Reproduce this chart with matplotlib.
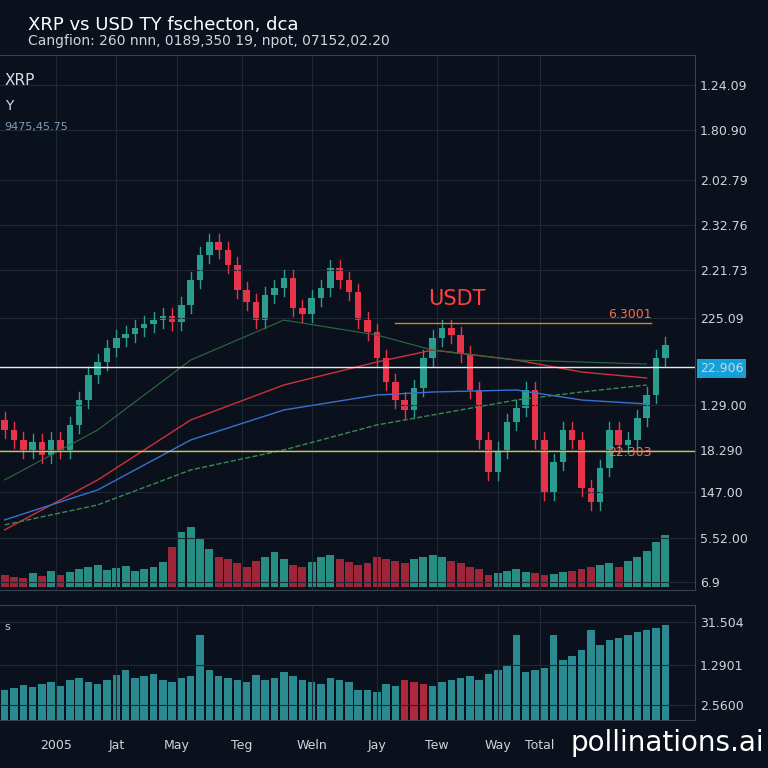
import matplotlib
matplotlib.use("Agg")
import matplotlib.pyplot as plt
import numpy as np

closes = [160,150,140,148,135,150,140,165,190,215,228,242,252,256,262,266,270,274,268,285,310,335,348,340,325,300,288,270,295,302,312,282,276,292,302,322,310,298,270,258,232,208,190,180,202,232,252,262,255,236,200,150,118,140,168,182,200,150,98,128,160,150,102,88,122,160,145,150,172,195,232,245]
opens = [170] + closes[:-1]
volume = [12,10,9,14,11,16,12,15,18,20,22,17,19,21,16,18,20,25,40,55,60,48,38,30,28,24,20,26,30,35,28,22,20,25,30,32,28,25,22,24,30,28,26,24,28,30,32,30,26,24,20,18,12,14,16,18,15,14,12,13,15,16,18,20,22,24,20,26,30,36,45,52]
low_vol = [30,32,35,33,36,38,34,40,42,38,36,40,45,50,42,44,46,40,38,42,44,85,50,44,42,40,38,45,40,42,48,44,40,38,36,42,40,38,30,30,28,36,34,40,38,36,34,38,40,42,44,40,46,50,55,85,48,50,52,85,60,64,70,90,75,80,82,85,88,90,92,95]
ma_x = [0,10,20,30,40,46,55,62,69]
ma_red = [60,110,170,205,228,240,230,218,212]
ma_blue = [70,100,150,180,195,198,200,190,186]
ma_green = [65,85,120,140,165,175,190,198,205]
ma_dk = [110,160,230,270,255,240,230,228,226]
ytick_pos = [505,460,410,365,320,272,223,185,140,98,52,8]
ytick_lab = ["1.24.09","1.80.90","2.02.79","2.32.76","2.21.73","225.09","22.906","1.29.00","18.290","147.00","5.52.00","6.9"]
xtick_pos = [5.5,12,18.5,25.5,33,40,46.5,53,57.5]
xtick_lab = ["2005","Jat","May","Teg","Weln","Jay","Tew","Way","Total"]

bg = "#0b111c"
green, red = "#2a9d8f", "#e8334a"
fig = plt.figure(figsize=(7.68,7.68), dpi=100, facecolor=bg)
ax = fig.add_axes([0,0.232,0.905,0.696], facecolor=bg)
ax2 = fig.add_axes([0,0.0625,0.905,0.15], facecolor=bg)
for a in (ax, ax2):
    a.set_xlim(-0.5, 74.2)
    for s in a.spines.values(): s.set_color("#3a4250")
    a.spines['left'].set_visible(False)
    a.grid(color="#1e2836", lw=0.8)
    a.tick_params(colors="#d0d4da", length=0, labelsize=9)
    a.yaxis.tick_right()
ax.set_ylim(0,535)
x = np.arange(len(closes))
for i,(o,c) in enumerate(zip(opens,closes)):
    col = green if c>=o else red
    ax.plot([i,i],[min(o,c)-8,max(o,c)+8], color=col, lw=1)
    ax.bar(i, max(abs(c-o),2), bottom=min(o,c), width=0.7, color=col)
vc = [green if c>=o else "#b0283c" for o,c in zip(opens,closes)]
ax.bar(x, volume, bottom=3, width=0.85, color=vc, alpha=0.9)
ax.plot(ma_x, ma_red, color="#d0303a", lw=1)
ax.plot(ma_x, ma_blue, color="#3a6fd0", lw=1)
ax.plot(ma_x, ma_green, color="#3a8a50", lw=1, ls="--")
ax.plot(ma_x, ma_dk, color="#2e6a40", lw=0.8)
ax.axhline(223, color="#e8e8e8", lw=1)
ax.axhline(139, color="#d8c23a", lw=1)
ax.plot([42,69.5],[267,267], color="#e07a30", lw=1)
ax.text(45.5,285,"USDT", color="#ff4040", fontsize=15)
ax.text(69.5,272,"6.3001", color="#ff6a4a", fontsize=9, ha="right")
ax.text(69.5,134,"22.303", color="#ff6a4a", fontsize=9, ha="right")
ax.set_yticks(ytick_pos); ax.set_yticklabels(ytick_lab)
ax.get_yticklabels()[6].set_bbox(dict(facecolor="#16a0d8", edgecolor="none", pad=2))
ax.set_xticks(xtick_pos); ax.tick_params(axis='x', labelbottom=False)
ax.text(0,505,"XRP", color="#d8dce2", fontsize=11)
ax.text(0,480,"Y", color="#d8dce2", fontsize=10)
ax.text(0,460,"9475,45.75", color="#7aa0b8", fontsize=8)

lc = ["#b0283c" if 43<=i<=45 else "#2a8a90" for i in range(len(low_vol))]
ax2.bar(x, low_vol, width=0.8, color=lc)
ax2.set_ylim(0,115)
ax2.set_yticks([98,55,15]); ax2.set_yticklabels(["31.504","1.2901","2.5600"])
ax2.set_xticks(xtick_pos); ax2.set_xticklabels(xtick_lab)
ax2.tick_params(axis='x', pad=14)
ax2.text(0,90,"s", color="#c0c4ca", fontsize=8)

fig.text(0.036,0.968,"XRP vs USD TY fschecton, dca", color="white", fontsize=13, va="center")
fig.text(0.036,0.946,"Cangfion: 260 nnn, 0189,350 19, npot, 07152,02.20", color="#d0d4da", fontsize=10, va="center")
fig.text(0.995,0.022,"pollinations.ai", color="white", fontsize=20, ha="right")
fig.savefig("out.png", dpi=100, facecolor=bg)
